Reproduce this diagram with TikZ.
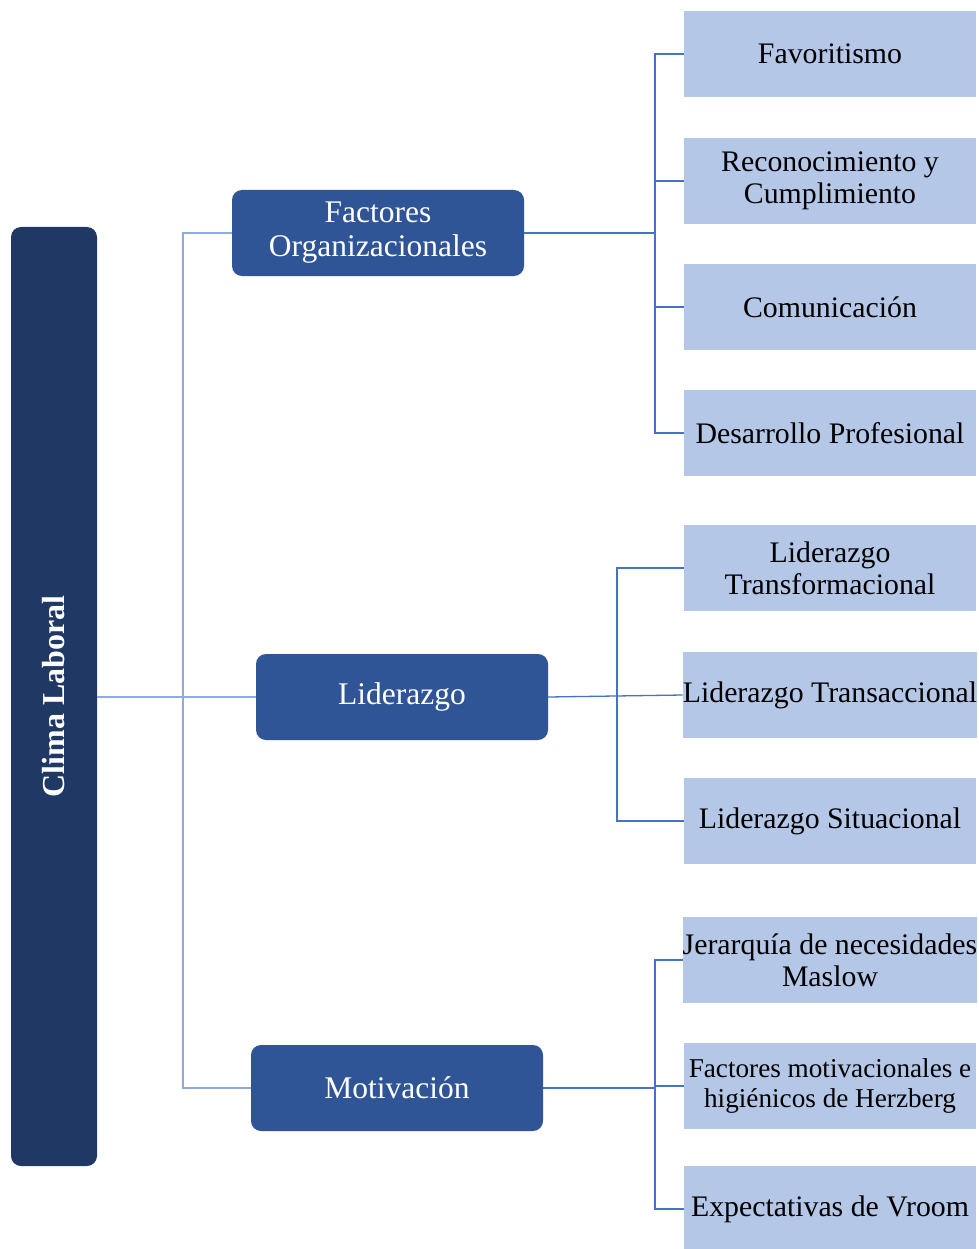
\documentclass[tikz,border=0pt]{standalone}
\usepackage{fontspec}
\setmainfont{Liberation Serif}
\definecolor{navy}{HTML}{203864}
\definecolor{midblue}{HTML}{2F5597}
\definecolor{lightblue}{HTML}{B4C7E7}
\definecolor{lineA}{HTML}{4472C4}
\definecolor{lineB}{HTML}{8FAADC}
\begin{document}
\begin{tikzpicture}[x=1pt,y=-1pt,
  rootbox/.style={fill=navy, rounded corners=10pt, minimum width=86pt, minimum height=939pt, inner sep=0pt},
  roottext/.style={rotate=90, text=white, font=\fontsize{32}{36}\selectfont\bfseries},
  midbox/.style={fill=midblue, rounded corners=10pt, minimum width=292pt, minimum height=86pt, inner sep=0pt, text=white, align=center, font=\fontsize{31.5}{34}\selectfont},
  leafbox/.style={fill=lightblue, minimum width=292pt, minimum height=86pt, inner sep=0pt, text=black, align=center, font=\fontsize{29.8}{32}\selectfont},
  linkA/.style={draw=lineA, line width=1.3pt},
  linkB/.style={draw=lineB, line width=1.3pt}]
\useasboundingbox (0,0) rectangle (978,1249);
\fill[white] (0,0) rectangle (978,1249);

% root
\node[rootbox] (clima) at (54,696.5) {};
\node[roottext] (climatext) at (clima.center) {Clima Laboral};

% middle level
\node[midbox] (fo) at (378,233) {Factores\\Organizacionales};
\node[midbox] (lid) at (402,697) {Liderazgo};
\node[midbox] (mot) at (397,1088) {Motivación};

% leaves
\node[leafbox] (fav) at (830,54) {Favoritismo};
\node[leafbox] (rec) at (830,181) {Reconocimiento y\\Cumplimiento};
\node[leafbox] (com) at (830,307) {Comunicación};
\node[leafbox] (des) at (830,433) {Desarrollo Profesional};
\node[leafbox] (ltf) at (830,568) {Liderazgo\\Transformacional};
\node[leafbox] (ltc) at (830,695) {Liderazgo Transaccional};
\node[leafbox] (lsi) at (830,821) {Liderazgo Situacional};
\node[leafbox] (jer) at (830,960) {Jerarquía de necesidades\\Maslow};
\node[leafbox, font=\fontsize{27.2}{30}\selectfont] (fmh) at (830,1086) {Factores motivacionales e\\higiénicos de Herzberg};
\node[leafbox] (exp) at (830,1209) {Expectativas de Vroom};

% junction coordinates
\coordinate (t0) at (183,697);
\coordinate (ja) at (655,233);
\coordinate (jb) at (617,697);
\coordinate (jc) at (655,1088);

% left connectors
\draw[linkB] (clima.east |- lid.west) -- (lid.west);
\draw[linkB] (fo.west) -| (t0) |- (mot.west);

% right connectors
\draw[linkA] (fo.east) -- (ja);
\draw[linkA] (fav.west) -| (ja) |- (des.west);
\draw[linkA] (rec.west) -- (rec.west -| ja);
\draw[linkA] (com.west) -- (com.west -| ja);

\draw[linkA] (lid.east) -- (ltc.west);
\draw[linkA] (ltf.west) -| (jb) |- (lsi.west);

\draw[linkA] (mot.east) -- (jc);
\draw[linkA] (jer.west) -| (jc) |- (exp.west);
\draw[linkA] (fmh.west) -- (fmh.west -| jc);
\end{tikzpicture}
\end{document}
